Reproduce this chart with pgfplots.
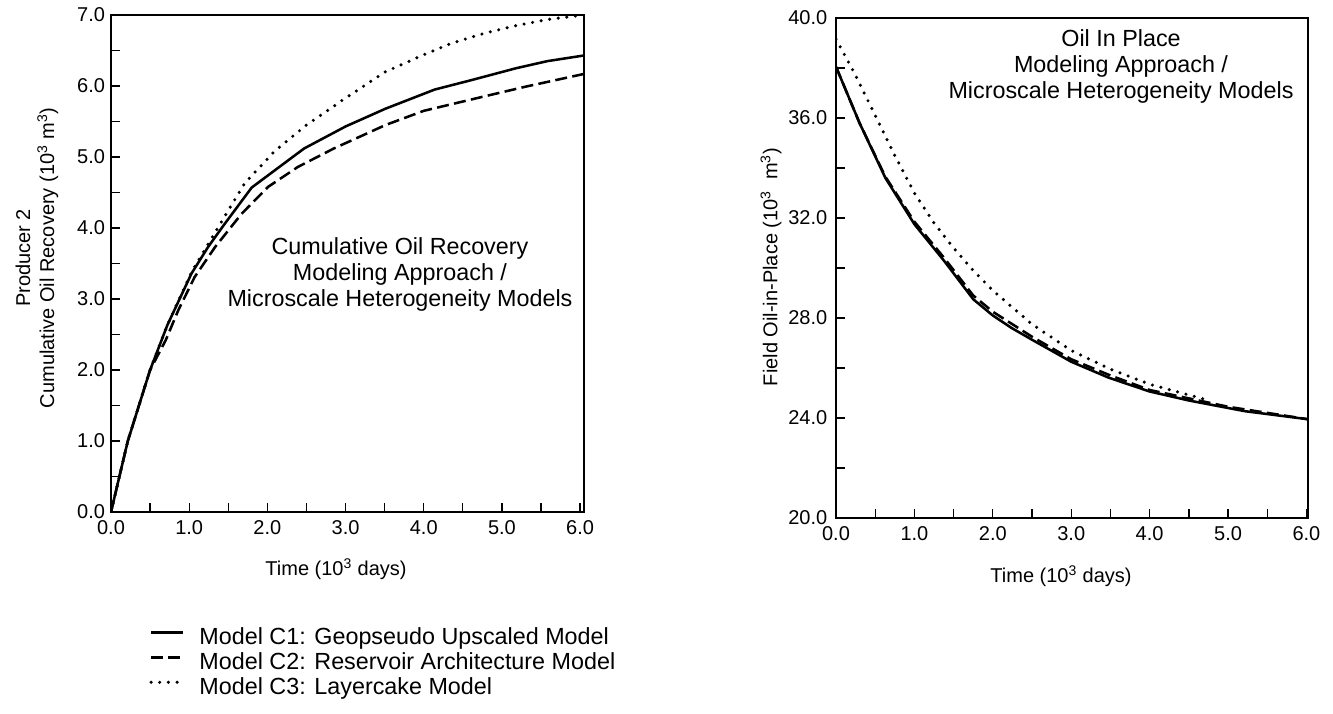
\documentclass[border=0pt]{standalone}
\usepackage{pgfplots}
\pgfplotsset{compat=1.18}
\usepackage{fontspec}
\setmainfont{Liberation Sans}

\newcommand{\axfont}{\fontsize{15}{18}\selectfont}
\newcommand{\bigfont}{\fontsize{17.5}{19.5}\selectfont}

\pgfplotsset{
  myaxis/.style={
    scale only axis,
    axis line style={line width=1.3pt},
    tick style={line width=1pt, black},
    tick align=inside,
    xtick pos=bottom, ytick pos=left,
    major tick length=7pt, minor tick length=7pt,
    minor tick num=1,
    tick label style={font=\axfont},
    xticklabel style={yshift=-3pt},
    /pgf/number format/fixed,
    /pgf/number format/fixed zerofill,
    /pgf/number format/precision=1,
    /pgf/number format/assume math mode=true,
  },
  c1/.style={black, line width=1.9pt, line join=round},
  c2/.style={black, line width=1.9pt, dash pattern=on 9pt off 4pt},
  c3/.style={black, line width=2.6pt, line cap=round, dash pattern=on 0pt off 6.5pt},
}

\begin{document}
\begin{tikzpicture}
\useasboundingbox (0,0) rectangle (999.75pt,534.75pt);

% ---------------- left axis ----------------
\begin{axis}[myaxis,
  at={(83.25pt,150.75pt)}, anchor=south west,
  width=354.75pt, height=372.75pt,
  xmin=0, xmax=6.05, ymin=0, ymax=7,
  xtick={0,1,2,3,4,5,6}, ytick={0,1,2,3,4,5,6,7},
  yticklabel style={xshift=-1pt},
  legend style={draw=none, fill=none, at={(axis description cs:0.072,-0.2264)},
    anchor=north west, font=\bigfont, row sep=2.5pt,
    nodes={inner sep=0pt, text height=12.5pt, text depth=3.75pt},
    /tikz/every odd column/.style={column sep=11pt}},
  legend cell align=left,
  legend image code/.code={\draw[#1] (0pt,4.5pt) -- (24pt,4.5pt);},
]
\addplot[c1] coordinates {
(0,0) (0.215,1.0) (0.50,2.0) (0.72,2.63) (1.03,3.36) (1.24,3.73) (1.455,4.06)
(1.80,4.57) (2.47,5.12) (3.0,5.43) (3.51,5.68) (4.14,5.95) (4.6,6.08)
(5.18,6.25) (5.58,6.35) (6.05,6.43)};
\addlegendentry{Model C1: Geopseudo Upscaled Model}
\addplot[c2] coordinates {
(0,0) (0.215,1.0) (0.50,2.0) (0.70,2.42) (0.86,2.84) (1.07,3.31) (1.33,3.73)
(1.67,4.20) (2.01,4.58) (2.39,4.86) (2.85,5.12) (3.51,5.45) (4.0,5.65)
(4.76,5.85) (5.3,5.99) (6.05,6.17)};
\addlegendentry{Model C2: Reservoir Architecture Model}
\addplot[c3] coordinates {
(0,0) (0.215,1.0) (0.50,2.0) (0.72,2.63) (1.03,3.38) (1.37,4.01) (1.71,4.63)
(2.1,5.09) (2.5,5.45) (3.0,5.83) (3.51,6.20) (4.0,6.44) (4.35,6.60) (4.8,6.75)
(5.18,6.85) (5.6,6.94) (6.05,7.0)};
\addlegendentry{Model C3: Layercake Model}
\end{axis}

% ---------------- right axis ----------------
\begin{axis}[myaxis,
  at={(627pt,146.25pt)}, anchor=south west,
  width=354pt, height=375pt,
  xmin=0, xmax=6.02, ymin=20, ymax=40,
  xtick={0,1,2,3,4,5,6}, ytick={20,24,28,32,36,40},
  yticklabel style={xshift=-3pt},
]
\addplot[c1] coordinates {
(0,38.05) (0.3,35.8) (0.63,33.6) (1.0,31.75) (1.38,30.28) (1.75,28.75)
(2.0,28.1) (2.24,27.6) (2.5,27.13) (3.0,26.25) (3.48,25.61) (4.0,25.06)
(4.5,24.7) (5.0,24.4) (5.22,24.27) (6.02,23.95)};
\addplot[c2] coordinates {
(0,38.05) (0.3,35.8) (0.63,33.65) (1.0,31.85) (1.38,30.4) (1.75,28.9)
(2.0,28.25) (2.5,27.25) (3.0,26.35) (3.5,25.7) (4.0,25.12) (5.0,24.45)
(6.02,23.95)};
\addplot[c3] coordinates {
(0,39.15) (0.25,37.7) (0.5,36.1) (0.75,34.5) (1.0,33.0) (1.25,31.8)
(1.5,30.8) (1.75,29.9) (2.0,29.1) (2.5,27.75) (3.0,26.7) (3.5,25.95)
(4.0,25.35) (4.35,25.05) (4.7,24.75)};
\end{axis}

% ---------------- labels ----------------
\node[font=\axfont] at (252pt,108pt) {Time (10\textsuperscript{3} days)};
\node[font=\axfont] at (795.75pt,102.75pt) {Time (10\textsuperscript{3} days)};
\node[font=\axfont, rotate=90, align=center] at (27.75pt,341.25pt)
  {Producer 2\\Cumulative Oil Recovery (10\textsuperscript{3} m\textsuperscript{3})};
\node[font=\axfont, rotate=90] at (578.25pt,334.5pt)
  {Field Oil-in-Place (10\textsuperscript{3}\ \ m\textsuperscript{3})};
\node[font=\bigfont, align=center] at (300pt,329.25pt)
  {Cumulative Oil Recovery\\Modeling Approach /\\Microscale Heterogeneity Models};
\node[font=\bigfont, align=center] at (840.75pt,485.25pt)
  {Oil In Place\\Modeling Approach /\\Microscale Heterogeneity Models};
\end{tikzpicture}
\end{document}
